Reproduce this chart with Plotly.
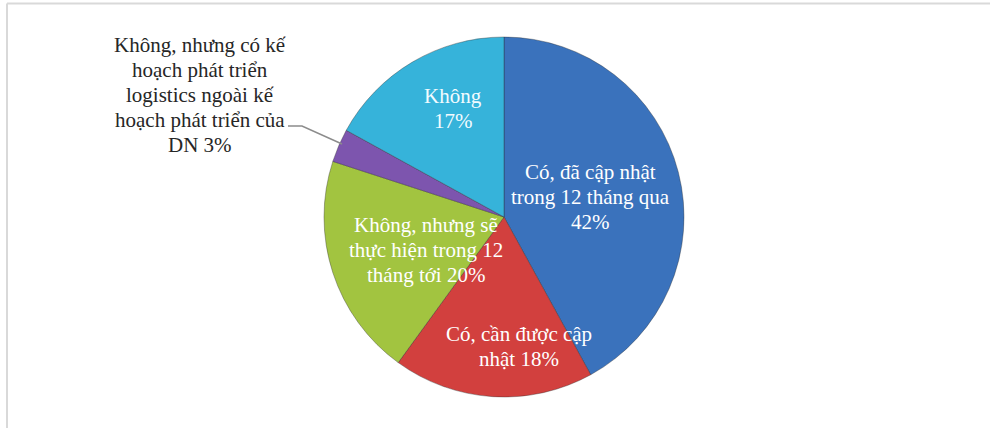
import plotly.graph_objects as go

# Survey answers, clockwise from 12 o'clock
categories = [
    "Có, đã cập nhật trong 12 tháng qua",
    "Có, cần được cập nhật",
    "Không, nhưng sẽ thực hiện trong 12 tháng tới",
    "Không, nhưng có kế hoạch phát triển logistics ngoài kế hoạch phát triển của DN",
    "Không",
]
values = [42, 18, 20, 3, 17]
colors = ["#3A72BC", "#D2403E", "#A2C440", "#7D55AE", "#36B3DA"]

# Wrapped label text (the percentage is appended from values)
label_wraps = [
    "Có, đã cập nhật<br>trong 12 tháng qua<br>",
    "Có, cần được cập<br>nhật ",
    "Không, nhưng sẽ<br>thực hiện trong 12<br>tháng tới ",
    "Không, nhưng có kế<br>hoạch phát triển<br>logistics ngoài kế<br>hoạch phát triển của<br>DN ",
    "Không<br>",
]
# Label centres in pixels and text colours
label_pos = [(590, 197), (519, 346), (426, 250), (200, 95), (453, 108)]
label_colors = ["white", "white", "white", "#262626", "#F2FBFF"]
LINE_GAP = 25

W, H = 990, 428
cx, cy, r = 504, 217, 180


def px(x):
    return x / W


def py(y):
    return 1 - y / H


fig = go.Figure(
    go.Pie(
        labels=categories,
        values=values,
        sort=False,
        direction="clockwise",
        rotation=0,
        marker=dict(colors=colors, line=dict(color="rgba(40,40,40,0.45)", width=0.8)),
        textinfo="none",
        hoverinfo="skip",
        showlegend=False,
        domain=dict(x=[px(cx - r), px(cx + r)], y=[py(cy + r), py(cy - r)]),
    )
)

for wrap, v, (lx, ly), c in zip(label_wraps, values, label_pos, label_colors):
    lines = f"{wrap}{v}%".split("<br>")
    n = len(lines)
    for i, line in enumerate(lines):
        y = ly + (i - (n - 1) / 2) * LINE_GAP
        fig.add_annotation(
            x=px(lx), y=py(y), xref="paper", yref="paper",
            text=line, showarrow=False,
            xanchor="center", yanchor="middle", align="center",
            font=dict(family="Liberation Serif", size=21, color=c),
        )

# Leader line for the small slice
fig.add_shape(
    type="path", xref="paper", yref="paper",
    path=f"M {px(288)} {py(126)} L {px(302)} {py(126)} L {px(342)} {py(144)}",
    line=dict(color="#8C8C8C", width=1.5),
)

# Chart frame (top and left edges)
fig.add_shape(type="line", xref="paper", yref="paper",
              x0=px(7), y0=py(3.5), x1=1, y1=py(3.5),
              line=dict(color="#D9D9D9", width=2))
fig.add_shape(type="line", xref="paper", yref="paper",
              x0=px(7), y0=py(3.5), x1=px(7), y1=0,
              line=dict(color="#D9D9D9", width=2))

fig.update_layout(
    width=W, height=H,
    margin=dict(l=0, r=0, t=0, b=0),
    paper_bgcolor="white",
    plot_bgcolor="white",
)

fig.write_html("out.html")
